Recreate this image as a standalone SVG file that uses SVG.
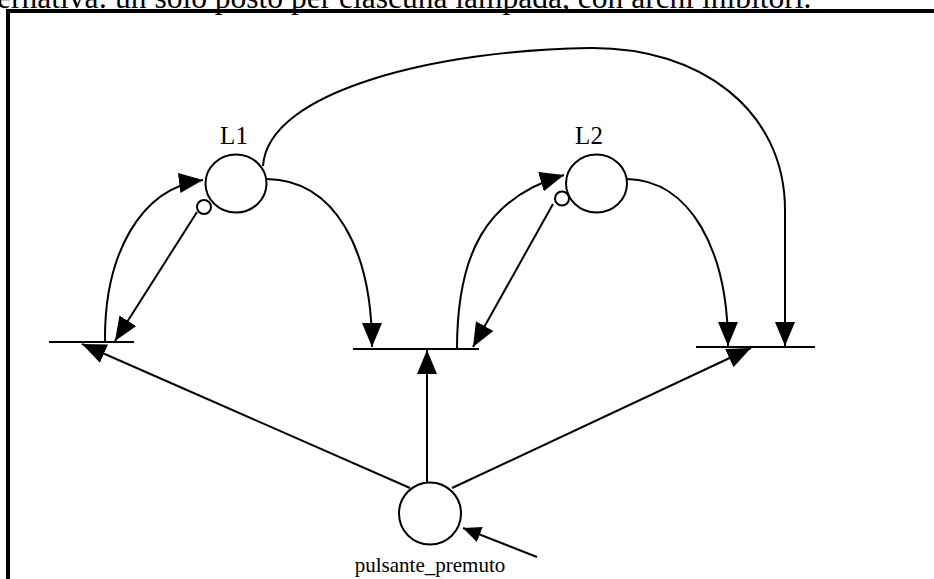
<svg xmlns="http://www.w3.org/2000/svg" width="934" height="579" viewBox="0 0 934 579">
  <style>
    .caption { font-family: "Liberation Serif", "Times New Roman", serif; font-size: 31.5px; fill: #000; }
    .label { font-family: "Liberation Serif", "Times New Roman", serif; fill: #000; }
    .place { fill: #fff; stroke: #000; stroke-width: 2; }
    .bar { stroke: #000; stroke-width: 2; }
    .arc { fill: none; stroke: #000; stroke-width: 2; }
    .frame { fill: none; stroke: #000; stroke-width: 4; }
  </style>
  <defs>
    <marker id="head" viewBox="0 0 24 20" refX="24" refY="10" markerWidth="24" markerHeight="20" orient="auto" markerUnits="userSpaceOnUse">
      <path d="M0,0 L24,10 L0,20 z" fill="#000"/>
    </marker>
    <marker id="headSmall" viewBox="0 0 18 16" refX="18" refY="8" markerWidth="18" markerHeight="16" orient="auto" markerUnits="userSpaceOnUse">
      <path d="M0,0 L18,8 L0,16 z" fill="#000"/>
    </marker>
  </defs>

  <rect width="934" height="579" fill="#fff"/>

  <!-- caption line running above the frame -->
  <text class="caption" x="-3" y="8">ernativa: un solo posto per ciascuna lampada, con archi inibitori.</text>

  <!-- frame -->
  <rect class="frame" x="8" y="11" width="1000" height="1000"/>

  <!-- connectors -->
  <g id="connectors">
    <!-- T1 -> L1 -->
    <path class="arc" d="M105,342 C104,255 140,188 203,180" marker-end="url(#head)"/>
    <!-- L1 inhibitor line -> T1 -->
    <path class="arc" d="M197,212 L115,341" marker-end="url(#head)"/>
    <!-- L1 -> T2 -->
    <path class="arc" d="M267,179 C335,180 372,250 372,347" marker-end="url(#head)"/>
    <!-- T2 -> L2 -->
    <path class="arc" d="M457,349 C457,255 485,198 564,175" marker-end="url(#head)"/>
    <!-- L2 inhibitor line -> T2 -->
    <path class="arc" d="M553,204 L473,347" marker-end="url(#head)"/>
    <!-- L2 -> T3 -->
    <path class="arc" d="M627,179 C690,180 728,250 728,346" marker-end="url(#head)"/>
    <!-- L1 -> T3 (long arc over the top) -->
    <path class="arc" d="M263,166 C268,90 440,50 590,48 C700,47 785,110 785,210 L785,346" marker-end="url(#head)"/>
    <!-- pulsante_premuto -> transitions -->
    <path class="arc" d="M410,488 L82,344" marker-end="url(#head)"/>
    <path class="arc" d="M427,483 L427,350" marker-end="url(#head)"/>
    <path class="arc" d="M452,488 L751,348" marker-end="url(#head)"/>
    <!-- external input -->
    <path class="arc" d="M537,557 L463,528" marker-end="url(#headSmall)"/>
  </g>

  <!-- transitions -->
  <g id="T1"><line class="bar" x1="49" y1="342" x2="134" y2="342"/></g>
  <g id="T2"><line class="bar" x1="353" y1="349" x2="479" y2="349"/></g>
  <g id="T3"><line class="bar" x1="696" y1="347" x2="815" y2="347"/></g>

  <!-- places -->
  <g id="L1">
    <ellipse class="place" cx="236" cy="183.5" rx="30.5" ry="29"/>
    <circle class="place" cx="204" cy="207" r="7"/>
    <text class="label" x="234" y="144" font-size="25" text-anchor="middle">L1</text>
  </g>
  <g id="L2">
    <ellipse class="place" cx="596.5" cy="183.5" rx="30.5" ry="29"/>
    <circle class="place" cx="562" cy="198.5" r="7"/>
    <text class="label" x="589" y="144" font-size="25" text-anchor="middle">L2</text>
  </g>
  <g id="pulsante_premuto">
    <circle class="place" cx="430" cy="513.5" r="31"/>
    <text class="label" x="430" y="572" font-size="21" text-anchor="middle">pulsante_premuto</text>
  </g>
</svg>
